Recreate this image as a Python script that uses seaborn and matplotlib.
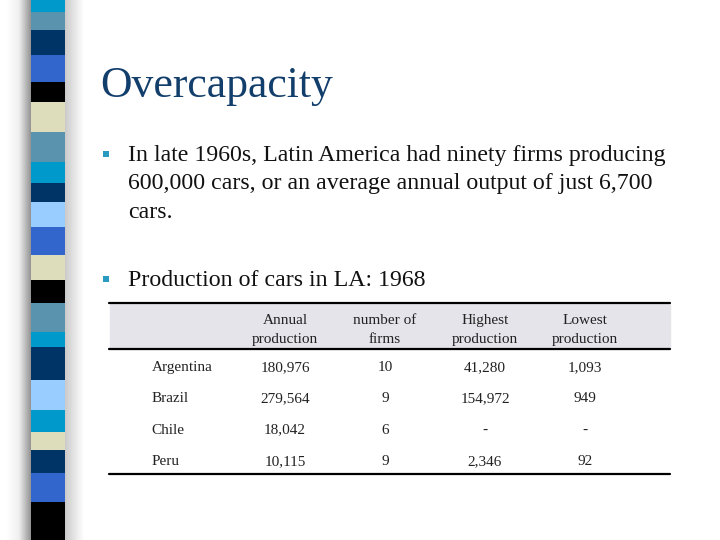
import numpy as np
import pandas as pd
import matplotlib
matplotlib.use('Agg')
import matplotlib.pyplot as plt
from matplotlib.colors import ListedColormap, LinearSegmentedColormap
import seaborn as sns

# slide text
title = 'Overcapacity'
bullet1 = ['In late 1960s, Latin America had ninety firms producing',
           '600,000 cars, or an average annual output of just 6,700',
           'cars.']
bullet2 = 'Production of cars in LA: 1968'

# table data
countries = ['Argentina', 'Brazil', 'Chile', 'Peru']
columns = ['Annual\nproduction', 'number of\nfirms', 'Highest\nproduction', 'Lowest\nproduction']
annual = [180976, 279564, 18042, 10115]
firms = [10, 9, 6, 9]
highest = [41280, 154972, None, 2346]
lowest = [1093, 949, None, 92]

# left decoration stripe (band heights in px, top to bottom)
band_h = [12, 18, 25, 27, 20, 30, 30, 21, 19, 25, 28, 25, 23, 29, 15, 33, 30, 22, 18, 23, 29, 38]
band_c = ['#0099CC', '#5A93AE', '#003366', '#3366CC', '#000000', '#DDDDBB', '#5A93AE',
          '#0099CC', '#003366', '#99CCFF', '#3366CC', '#DDDDBB', '#000000', '#5A93AE',
          '#0099CC', '#003366', '#99CCFF', '#0099CC', '#DDDDBB', '#003366', '#3366CC', '#000000']


def fmt(v):
    return '-' if v is None else f'{v:,}'


sns.set_theme(style='white')
plt.rcParams['font.family'] = ['Liberation Serif', 'DejaVu Serif']

fig = plt.figure(figsize=(7.2, 5.4), dpi=100)
ax = fig.add_axes([0, 0, 1, 1])
ax.set_xlim(0, 720)
ax.set_ylim(540, 0)
ax.axis('off')

# shadow around the stripe
grad = np.linspace(0, 1, 64).reshape(1, -1)
shade_l = LinearSegmentedColormap.from_list('sl', ['#ffffff', '#f0f0f0', '#8c8c8c'])
shade_r = LinearSegmentedColormap.from_list('sr', ['#c8c8c8', '#ffffff'])
ax.imshow(grad, cmap=shade_l, extent=(6, 32, 540, 0), aspect='auto', zorder=1)
ax.imshow(grad, cmap=shade_r, extent=(64, 84, 540, 0), aspect='auto', zorder=1)

bottoms = np.concatenate([[0], np.cumsum(band_h)[:-1]])
ax.bar([48] * len(band_h), band_h, bottom=bottoms, width=34, color=band_c,
       align='center', linewidth=0, zorder=2)

# title and bullets
ax.text(100, 86, title, fontsize=31.5, color='#123E6B', va='center', ha='left',
        family='Liberation Serif')
bullet_col = '#2A9AC0'
ax.scatter([106, 106], [154, 279], marker='s', s=20, color=bullet_col, linewidths=0, zorder=3)
for i, line in enumerate(bullet1):
    ax.text(128, 155 + i * 29, line, fontsize=17.2, color='#111111', va='center', ha='left',
            family='Liberation Serif')
ax.text(128, 280, bullet2, fontsize=17.2, color='#111111', va='center', ha='left',
        family='Liberation Serif')

# table header band and rules
ax.add_patch(plt.Rectangle((110, 304), 560, 45, color='#E4E4EA', zorder=1))
for y in [303, 349, 474]:
    ax.plot([109, 670], [y, y], color='black', lw=1.6, zorder=3)

# table body via heatmap
vals = pd.DataFrame({columns[0]: [fmt(v) for v in annual],
                     columns[1]: [fmt(v) for v in firms],
                     columns[2]: [fmt(v) for v in highest],
                     columns[3]: [fmt(v) for v in lowest]}, index=countries)
tax = fig.add_axes([235 / 720, 1 - 477 / 540, 400 / 720, 125 / 540])
sns.heatmap(np.zeros(vals.shape), annot=vals.values, fmt='', cmap=ListedColormap(['white']),
            cbar=False, ax=tax, xticklabels=columns, yticklabels=countries,
            annot_kws={'fontsize': 11, 'color': '#222222', 'family': 'Liberation Serif'})
tax.set_facecolor('none')
for c in tax.collections:
    c.set_alpha(0)
tax.xaxis.tick_top()
tax.tick_params(axis='x', length=0, pad=4, labelsize=11, labelcolor='#222222')
tax.tick_params(axis='y', length=0, pad=60, labelsize=11, labelcolor='#222222')
for lbl in tax.get_xticklabels():
    lbl.set_rotation(0)
    lbl.set_linespacing(1.6)
    lbl.set_ha('center')
for lbl in tax.get_yticklabels():
    lbl.set_rotation(0)
    lbl.set_ha('left')
for s in tax.spines.values():
    s.set_visible(False)

fig.savefig('out.png', dpi=100)
